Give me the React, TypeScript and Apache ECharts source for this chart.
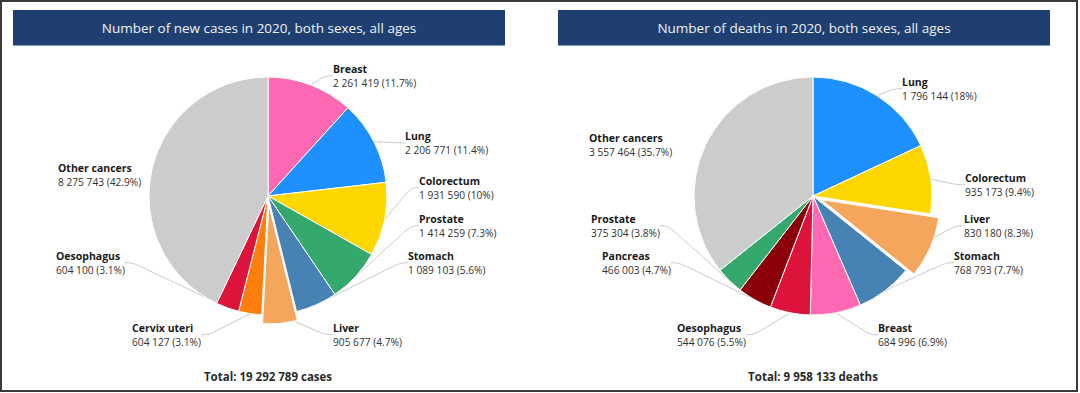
import React, { useEffect, useRef } from "react";
import * as echarts from "echarts";

// ---- Data ----
const casesNames = ["Breast", "Lung", "Colorectum", "Prostate", "Stomach", "Liver", "Cervix uteri", "Oesophagus", "Other cancers"];
const casesValues = [2261419, 2206771, 1931590, 1414259, 1089103, 905677, 604127, 604100, 8275743];
const deathsNames = ["Lung", "Colorectum", "Liver", "Stomach", "Breast", "Oesophagus", "Pancreas", "Prostate", "Other cancers"];
const deathsValues = [1796144, 935173, 830180, 768793, 684996, 544076, 466003, 375304, 3557464];
const panelTitles = ["Number of new cases in 2020, both sexes, all ages", "Number of deaths in 2020, both sexes, all ages"];
const totalUnits = ["cases", "deaths"];
const highlighted = "Liver";
const noLineNames = ["Other cancers"];

// ---- Styles ----
const colorByName: Record<string, string> = {
  Breast: "#ff69b4",
  Lung: "#1e90ff",
  Colorectum: "#ffd700",
  Prostate: "#35a86d",
  Stomach: "#4682b4",
  Liver: "#f4a65c",
  "Cervix uteri": "#ff7f0e",
  Oesophagus: "#dc143c",
  Pancreas: "#8b0008",
  "Other cancers": "#cccccc",
};

// label block top-left positions (text start), per series, by name
const labelPos: Record<string, [number, number]>[] = [
  {
    Breast: [333, 62],
    Lung: [405, 129],
    Colorectum: [419, 174],
    Prostate: [419, 212],
    Stomach: [408, 249],
    Liver: [333, 321],
    "Cervix uteri": [132, 321],
    Oesophagus: [56, 249],
    "Other cancers": [58, 161],
  },
  {
    Lung: [902, 75],
    Colorectum: [965, 171],
    Liver: [964, 212],
    Stomach: [954, 249],
    Breast: [878, 321],
    Oesophagus: [677, 321],
    Pancreas: [602, 249],
    Prostate: [591, 212],
    "Other cancers": [589, 131],
  },
];

const FONT = "'Open Sans', 'Noto Sans', sans-serif";
const PAD = 8;
const RADIUS = 119;
const EXPLODE = 9;

function fmt(n: number): string {
  return String(n).replace(/\B(?=(\d{3})+(?!\d))/g, " ");
}
function pct(v: number, total: number): string {
  const p = Math.round((v / total) * 1000) / 10;
  return (Number.isInteger(p) ? p.toFixed(0) : p.toFixed(1)) + "%";
}

export default function App() {
  const ref = useRef<HTMLDivElement>(null);
  useEffect(() => {
    if (!ref.current) return;
    const chart = echarts.init(ref.current, undefined, { renderer: "svg" });
    const sets = [
      { names: casesNames, values: casesValues },
      { names: deathsNames, values: deathsValues },
    ];
    const centers = [[268, 196], [813, 196]];
    const bars = [[13, 10, 492, 36], [558, 10, 492, 36]];

    const series: any[] = [];
    sets.forEach((s, si) => {
      const total = s.values.reduce((a, b) => a + b, 0);
      // main pie (highlighted slice drawn transparent; its shifted copy drawn by overlay)
      series.push({
        type: "pie",
        center: centers[si],
        radius: RADIUS,
        startAngle: 90,
        clockwise: true,
        avoidLabelOverlap: false,
        emphasis: { disabled: true },
        itemStyle: { borderColor: "#ffffff", borderWidth: 1 },
        label: {
          show: true,
          position: "outside",
          align: "left",
          padding: [0, PAD, 0, PAD],
          formatter: (p: any) => `{n|${p.name}}\n{v|${fmt(p.value)} (${pct(p.value, total)})}`,
          rich: {
            n: { fontFamily: FONT, fontSize: 10.5, fontWeight: "bold", color: "#1a1a1a", lineHeight: 14, align: "left" },
            v: { fontFamily: FONT, fontSize: 10.2, color: "#333333", lineHeight: 14, align: "left" },
          },
        },
        labelLine: {
          show: true,
          length: 15,
          length2: 8,
          smooth: 0.45,
          lineStyle: { color: "#c8c8c8", width: 1, opacity: 1 },
        },
        labelLayout: (params: any) => {
          const name = s.names[params.dataIndex];
          const pos = labelPos[si][name];
          return { x: pos[0] - PAD, y: pos[1], align: "left", verticalAlign: "top" };
        },
        data: s.names.map((n, i) => ({
          name: n,
          value: s.values[i],
          labelLine: noLineNames.includes(n) ? { show: false } : undefined,
          itemStyle:
            n === highlighted
              ? { color: "rgba(0,0,0,0)", borderWidth: 0 }
              : { color: colorByName[n] },
        })),
      });

      // exploded slice overlay: same data, shifted along the slice's mid-angle
      const hi = s.names.indexOf(highlighted);
      let before = 0;
      for (let k = 0; k < hi; k++) before += s.values[k];
      const mid = ((before + s.values[hi] / 2) / total) * Math.PI * 2;
      const dx = Math.sin(mid) * EXPLODE;
      const dy = -Math.cos(mid) * EXPLODE;
      series.push({
        type: "pie",
        silent: true,
        center: [centers[si][0] + dx, centers[si][1] + dy],
        radius: RADIUS,
        startAngle: 90,
        clockwise: true,
        emphasis: { disabled: true },
        label: { show: false },
        labelLine: { show: false },
        itemStyle: { borderColor: "#ffffff", borderWidth: 1 },
        data: s.names.map((n, i) => ({
          name: n,
          value: s.values[i],
          itemStyle:
            n === highlighted
              ? { color: colorByName[n] }
              : { color: "rgba(0,0,0,0)", borderWidth: 0 },
        })),
      });
    });

    const graphic: any[] = [
      {
        type: "rect",
        shape: { x: 1, y: 1, width: 1076, height: 390 },
        style: { fill: "none", stroke: "#3a3a3a", lineWidth: 2 },
        silent: true,
      },
    ];
    bars.forEach((b, i) => {
      graphic.push({
        type: "rect",
        shape: { x: b[0], y: b[1], width: b[2], height: b[3] },
        style: { fill: "#1f3f70" },
        silent: true,
      });
      graphic.push({
        type: "rect",
        shape: { x: b[0], y: b[1] + b[3] - 1, width: b[2], height: 1 },
        style: { fill: "#8a9bb5" },
        silent: true,
      });
      graphic.push({
        type: "text",
        x: b[0] + b[2] / 2,
        y: b[1] + b[3] / 2,
        style: {
          text: panelTitles[i],
          fill: "#eef2f7",
          font: `13.5px ${FONT}`,
          align: "center",
          verticalAlign: "middle",
        },
        silent: true,
      });
      const total = sets[i].values.reduce((a, v) => a + v, 0);
      graphic.push({
        type: "text",
        x: centers[i][0],
        y: 376,
        style: {
          text: `Total: ${fmt(total)} ${totalUnits[i]}`,
          fill: "#2a2a2a",
          font: `bold 11.5px ${FONT}`,
          align: "center",
          verticalAlign: "middle",
        },
        silent: true,
      });
    });

    chart.setOption({
      animation: false,
      backgroundColor: "#ffffff",
      series,
      graphic,
    });
    return () => chart.dispose();
  }, []);
  return (
    <div
      ref={ref}
      style={{ position: "absolute", left: 0, top: 0, width: 1080, height: 393 }}
    />
  );
}
